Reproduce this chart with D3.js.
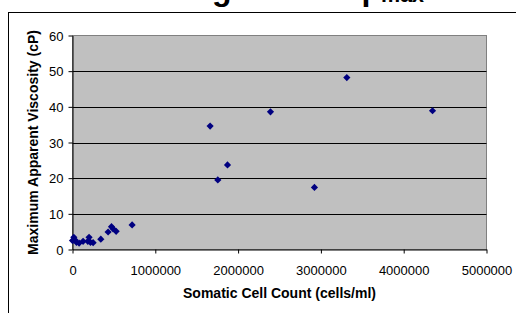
<!DOCTYPE html>
<html>
<head>
<meta charset="utf-8">
<script src="https://cdn.jsdelivr.net/npm/d3@7"></script>
<style>
html,body{margin:0;padding:0;background:#fff;}
svg{display:block;font-family:"Liberation Sans",Arial,sans-serif;}
</style>
</head>
<body>
<svg id="chart" width="516" height="313"></svg>
<script>
// Data
const somaticCellCount = [0, 16000, 28000, 48000, 80000, 128000, 185000, 200000, 217000, 249000, 342000, 430000, 471000, 490000, 527000, 720000,
  1662000, 1755000, 1872000, 2391000, 2922000, 3313000, 4348000];
const maxViscosity = [2.5, 3.4, 2.7, 2.0, 1.8, 2.3, 2.3, 3.4, 2.0, 1.9, 2.9, 4.9, 6.4, 5.8, 5.1, 6.9,
  34.6, 19.5, 23.7, 38.6, 17.4, 48.2, 38.9];
const xTicks = [0, 1000000, 2000000, 3000000, 4000000, 5000000];
const yTicks = [0, 10, 20, 30, 40, 50, 60];
const xTitle = "Somatic Cell Count (cells/ml)";
const yTitle = "Maximum Apparent Viscosity (cP)";
const titleMain = "Log SCC vs μ";
const titleSub = "max";

const svg = d3.select("#chart");
const L = 72.5, R = 486.5, T = 35.5, B = 249.5;
const x = d3.scaleLinear().domain([0, 5000000]).range([L, R]);
const y = d3.scaleLinear().domain([0, 60]).range([B, T]);

// outer chart frame
svg.append("rect").attr("x", 8.5).attr("y", 12.5).attr("width", 700).attr("height", 500)
  .attr("fill", "none").attr("stroke", "#000").attr("stroke-width", 1);

// title (mostly cropped off the top)
const tt = svg.append("text").attr("x", 173).attr("y", 0)
  .attr("font-size", 32).attr("font-weight", "bold").attr("fill", "#000");
tt.append("tspan").text(titleMain);
tt.append("tspan").attr("font-size", 21.5).attr("dy", 2).text(titleSub);

// plot area
svg.append("rect").attr("x", L).attr("y", T).attr("width", R - L).attr("height", B - T)
  .attr("fill", "#C0C0C0").attr("stroke", "#808080").attr("stroke-width", 1);

// gridlines
svg.append("g").selectAll("line").data(yTicks.filter(d => d > 0 && d < 60)).join("line")
  .attr("x1", L).attr("x2", R)
  .attr("y1", d => Math.round(y(d)) + 0.5).attr("y2", d => Math.round(y(d)) + 0.5)
  .attr("stroke", "#000").attr("stroke-width", 1);

// axes
const xAxis = d3.axisBottom(x).tickValues(xTicks).tickFormat(d3.format("d")).tickSizeInner(4).tickSizeOuter(0).tickPadding(12);
const gx = svg.append("g").attr("transform", `translate(0,${B})`).call(xAxis);
const yAxis = d3.axisLeft(y).tickValues(yTicks).tickSizeInner(4).tickSizeOuter(0).tickPadding(5);
const gy = svg.append("g").attr("transform", `translate(${L},0)`).call(yAxis);
[gx, gy].forEach(g => {
  g.select(".domain").attr("stroke", "#000");
  g.selectAll(".tick line").attr("stroke", "#000");
  g.selectAll(".tick text").attr("font-size", 13).attr("fill", "#000")
    .attr("font-family", "Liberation Sans, Arial, sans-serif");
});
gy.selectAll(".tick text").attr("dy", "0.36em");

// axis titles
svg.append("text").attr("x", (L + R) / 2).attr("y", 298).attr("text-anchor", "middle")
  .attr("font-size", 14).attr("font-weight", "bold").text(xTitle);
svg.append("text").attr("transform", `translate(38,${(T + B) / 2}) rotate(-90)`).attr("text-anchor", "middle")
  .attr("font-size", 14).attr("font-weight", "bold").text(yTitle);

// markers
const diamond = "M0,-3.6L3.6,0L0,3.6L-3.6,0Z";
svg.append("g").selectAll("path").data(somaticCellCount.map((c, i) => [c, maxViscosity[i]])).join("path")
  .attr("d", diamond)
  .attr("transform", d => `translate(${x(d[0])},${y(d[1])})`)
  .attr("fill", "#000080");
</script>
</body>
</html>
